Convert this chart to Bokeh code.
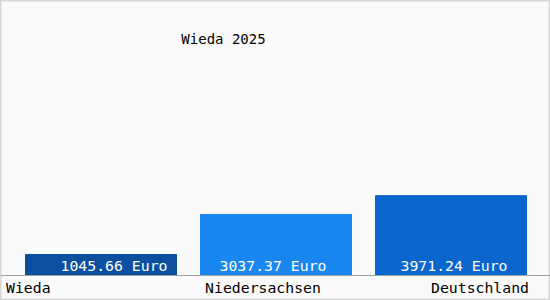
from bokeh.plotting import figure
from bokeh.models import Range1d, ColumnDataSource, Span
from bokeh.core.properties import value
from bokeh.embed import file_html
from bokeh.resources import INLINE

title_text = "Wieda 2025"
categories = ["Wieda", "Niedersachsen", "Deutschland"]
values = [1045.66, 3037.37, 3971.24]
value_labels = ["1045.66 Euro", "3037.37 Euro", "3971.24 Euro"]
bar_colors = ["#0b4f9e", "#1a86f0", "#0a66cc"]

# scale: px per euro ~ 0.0201 -> 1 px ~ 49.75 units
U = 49.75
idx = list(range(len(categories)))
FONT = value("DejaVu Sans Mono")

p = figure(width=550, height=300, output_backend="svg", toolbar_location=None,
           x_range=Range1d(-0.5743, 2.5686), y_range=Range1d(-25 * U, 275 * U),
           min_border=0, min_border_left=0, min_border_right=0,
           min_border_top=0, min_border_bottom=0)
p.axis.visible = False
p.grid.visible = False
p.background_fill_color = "#fafafa"
p.border_fill_color = "#fafafa"
p.outline_line_color = "#d8d8d8"
p.outline_line_width = 2

src = ColumnDataSource(dict(x=idx, top=values, color=bar_colors, lab=value_labels, cat=categories))
p.vbar(x="x", top="top", bottom=0, width=151 / 175, color="color", source=src)

p.add_layout(Span(location=0, dimension="width", line_color="#a0a0a0", line_width=1))

# value labels inside bars
val_offs = [13, -3, 3]
for i in idx:
    p.text(x=[idx[i]], y=[0], text=[value_labels[i]], text_align="center",
           text_baseline="bottom", x_offset=val_offs[i], y_offset=-2,
           text_color="white", text_font=FONT, text_font_size="14.8px")

# category labels below axis
aligns = ["left", "center", "right"]
xoffs = [-95, -13, 78]
for i, c in enumerate(categories):
    p.text(x=[idx[i]], y=[0], text=[c], text_align=aligns[i], text_baseline="middle",
           x_offset=xoffs[i], y_offset=12, text_color="black",
           text_font=FONT, text_font_size="14.8px")

# title
p.text(x=[0.7], y=[0], text=[title_text], text_align="center", text_baseline="middle",
       x_offset=0, y_offset=-237, text_color="black",
       text_font=FONT, text_font_size="14px")

open("out.html", "w").write(file_html(p, INLINE))
